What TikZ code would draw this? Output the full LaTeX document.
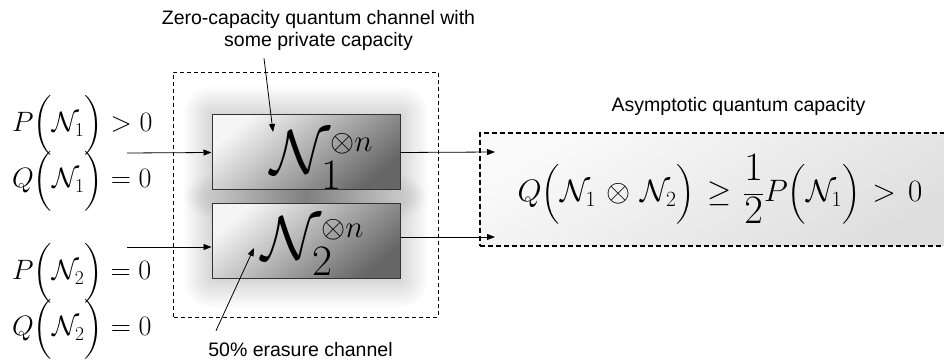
\RequirePackage{fix-cm}
\documentclass[tikz,border=0pt]{standalone}
\usepackage{amsmath}
\usepackage{fontspec}
\setsansfont{Liberation Sans}
\usetikzlibrary{arrows.meta,calc}

\begin{document}
\begin{tikzpicture}[x=1pt,y=1pt,
  note/.style={font=\sffamily\fontsize{19.5}{22}\selectfont,align=center,inner sep=0pt},
  cond/.style={font=\fontsize{28}{32}\selectfont,anchor=base west,inner sep=0pt},
  chan/.style={draw=black!80,line width=1pt,minimum width=188pt,minimum height=75pt,inner sep=0pt,top color=black!4,bottom color=black!60,shading angle=40},
  chanlbl/.style={font=\fontsize{62}{66}\selectfont,anchor=base west,inner sep=0pt},
  capbox/.style={draw,dash pattern=on 5pt off 3pt,line width=1.1pt,minimum width=480pt,minimum height=113pt,inner sep=0pt,top color=black!2,bottom color=black!13,shading angle=30,font=\fontsize{31}{36}\selectfont},
  wire/.style={-{Triangle[length=8pt,width=6pt]},line width=0.8pt},
  glow/.style={fill=black,opacity=0.012}]
\path[use as bounding box,clip] (0,0) rectangle (944,361);

% glow behind the two channels
\coordinate (ca) at (306,208.5);
\coordinate (cb) at (306,119.5);
\foreach \c in {ca,cb}
  \foreach \k in {1,...,13} {
    \pgfmathsetmacro\r{2.2*\k}
    \fill[glow,rounded corners=\r pt] ($(\c)+(-94-\r,-37.5-\r)$) rectangle ($(\c)+(94+\r,37.5+\r)$);
  }
\shade[left color=black!22,right color=black!22,middle color=black!50] ($(cb)+(-94,37.5)$) rectangle ($(ca)+(94,-37.5)$);
\draw[dash pattern=on 4pt off 3pt,line width=0.8pt] (173,44) rectangle (438,289);

% the two channels
\node[chan] (b1) at (ca) {};
\node[chan] (b2) at (cb) {};
\node[chanlbl] (la) at (270,187) {$\mathcal{N}_1^{\scriptscriptstyle\otimes n}$};
\node[chanlbl] (lb) at (261,101) {$\mathcal{N}_2^{\scriptscriptstyle\otimes n}$};

% conditions on the left
\foreach \nm/\yy/\txt in {pa/229/{$P\Bigl(\mathcal{N}_1\Bigr)>0$},qa/173/{$Q\Bigl(\mathcal{N}_1\Bigr)=0$},%
  pb/81/{$P\Bigl(\mathcal{N}_2\Bigr)=0$},qb/25/{$Q\Bigl(\mathcal{N}_2\Bigr)=0$}}
  \node[cond] (\nm) at (12,\yy) {\txt};

% result
\node[capbox] (cap) at (720,171.5) {\thickmuskip=7mu plus 2mu\medmuskip=6mu
  $Q\Bigl(\mathcal{N}_1\otimes\mathcal{N}_2\Bigr)\geq\dfrac{\scalebox{1.3}{$1$}}{\scalebox{1.3}{$2$}}P\Bigl(\mathcal{N}_1\Bigr)>0$};
\node[note,anchor=base] (capnote) at (738.5,249) {Asymptotic quantum capacity};

% wires
\coordinate (ia) at (127,208);
\coordinate (ib) at (127,114);
\coordinate (oa) at (495,209);
\coordinate (ob) at (495,124);
\draw[wire] (ia) -- (b1.west);
\draw[wire] (ib) -- ([yshift=-5.5pt]b2.west);
\draw[wire] (b1.east) -- (oa);
\draw[wire] ([yshift=4.5pt]b2.east) -- (ob);

% notes
\node[note] (notea) at (318.5,331) {Zero-capacity quantum channel with\\some private capacity};
\node[note,anchor=base] (noteb) at (300.5,5) {50\% erasure channel};
\coordinate (tipa) at (273,229);
\coordinate (tipb) at (254,113);
\draw[wire] ([xshift=-54.5pt,yshift=-8pt]notea.south) -- (tipa);
\draw[wire] ([xshift=-84.5pt,yshift=11pt]noteb.north) -- (tipb);
\end{tikzpicture}
\end{document}
